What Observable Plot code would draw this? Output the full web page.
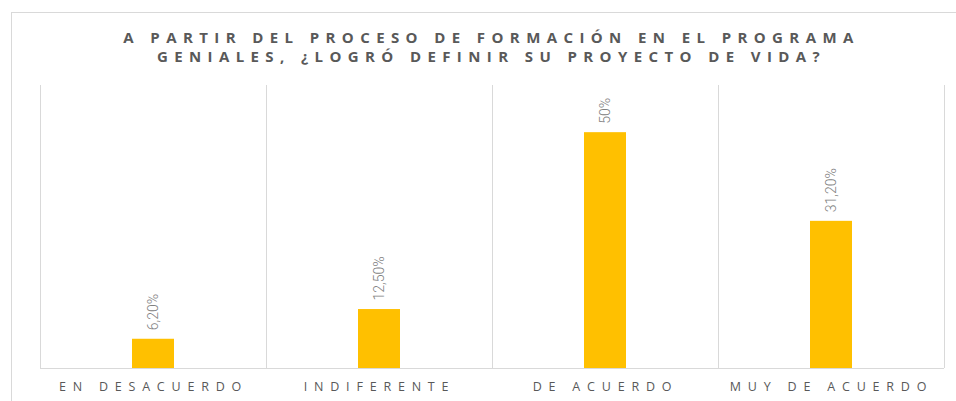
<!DOCTYPE html>
<html>
<head>
<meta charset="utf-8">
<script src="https://cdn.jsdelivr.net/npm/d3@7"></script>
<script src="https://cdn.jsdelivr.net/npm/@observablehq/plot@0.6"></script>
<style>
  html, body { margin: 0; padding: 0; background: #fff; width: 956px; height: 401px; overflow: hidden; }
  #frame { position: absolute; left: 11px; top: 12px; width: 980px; height: 420px; border: 1px solid #d9d9d9; box-sizing: border-box; }
  #title { position: absolute; left: 0; top: 28px; width: 983px; text-align: center; font-family: "Open Sans", "DejaVu Sans", sans-serif; font-weight: bold; font-size: 15px; line-height: 19px; letter-spacing: 6.4px; color: #595959; }
  #chart { position: absolute; left: 0; top: 0; }
</style>
</head>
<body>
<div id="frame"></div>
<div id="title">A PARTIR DEL PROCESO DE FORMACIÓN EN EL PROGRAMA<br>GENIALES, ¿LOGRÓ DEFINIR SU PROYECTO DE VIDA?</div>
<div id="chart"></div>
<script>
const categories = ["EN DESACUERDO", "INDIFERENTE", "DE ACUERDO", "MUY DE ACUERDO"];
const values = [6.2, 12.5, 50, 31.2];
const valueLabels = ["6,20%", "12,50%", "50%", "31,20%"];

const data = categories.map((c, i) => ({category: c, value: values[i], label: valueLabels[i]}));

const width = 956, height = 401;
const marginLeft = 40, marginRight = 12, marginTop = 85, marginBottom = 33;
const step = (width - marginLeft - marginRight) / categories.length;
const barWidth = 42;
const inset = (step - barWidth) / 2;
const labelSpacing = 6.8;

const plot = Plot.plot({
  width, height, marginLeft, marginRight, marginTop, marginBottom,
  style: {fontFamily: "'Open Sans', 'DejaVu Sans', sans-serif", background: "transparent", color: "#595959"},
  x: {domain: categories, padding: 0, label: null},
  y: {domain: [0, 60], axis: null},
  marks: [
    Plot.ruleX(categories, {x: d => d, dx: -step / 2, y1: 0, y2: 60, stroke: "#d9d9d9", strokeWidth: 1}),
    Plot.ruleX([categories[categories.length - 1]], {x: d => d, dx: step / 2, y1: 0, y2: 60, stroke: "#d9d9d9", strokeWidth: 1}),
    Plot.barY(data, {x: "category", y: "value", fill: "#FFC000", insetLeft: inset, insetRight: inset}),
    Plot.ruleY([0], {stroke: "#d9d9d9", strokeWidth: 1}),
    Plot.text(data, {x: "category", y: "value", text: "label", rotate: -90, textAnchor: "start", dy: -9, fill: "#808080", fontSize: 14, fontWeight: 300, fontFamily: "Roboto, sans-serif"}),
    Plot.axisX({tickSize: 0, tickPadding: 14, fontSize: 12.5, label: null})
  ]
});

d3.select(plot).selectAll('[aria-label="x-axis tick label"] text')
  .attr("letter-spacing", labelSpacing + "px")
  .attr("fill", "#595959");

document.getElementById("chart").appendChild(plot);
</script>
</body>
</html>
